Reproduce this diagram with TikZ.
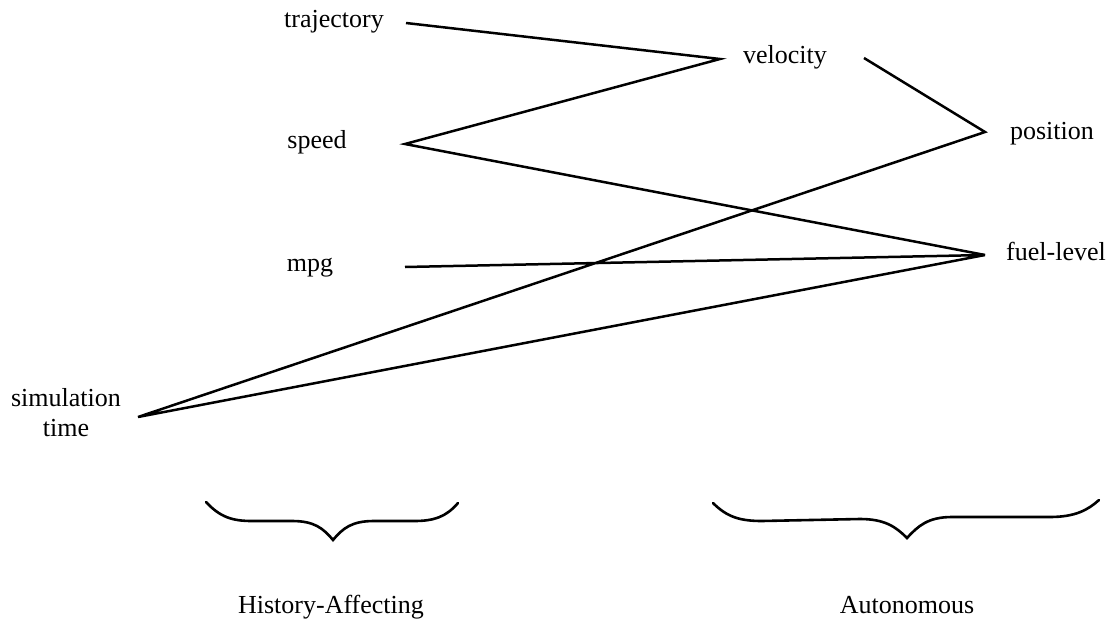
\documentclass[tikz,border=0pt]{standalone}
\usepackage{fontspec}
\setmainfont{Liberation Serif}
\begin{document}
\begin{tikzpicture}[x=1pt,y=-1pt,
  lbl/.style={inner sep=0pt,anchor=base,font=\fontsize{26}{30}\selectfont},
  conn/.style={line width=2.5pt,line join=miter},
  bracepath/.style={line width=2.6pt,line cap=round}]
\useasboundingbox (0,0) rectangle (1114,626);
% labels
\node[lbl] (traj) at (334,28) {trajectory};
\node[lbl] (speed) at (317,148) {speed};
\node[lbl] (mpg) at (310,271) {mpg};
\node[lbl,align=center,anchor=center] (sim) at (66,413) {simulation\\time};
\node[lbl] (vel) at (785,64) {velocity};
\node[lbl] (pos) at (1052,139) {position};
\node[lbl] (fuel) at (1056,260) {fuel-level};
\node[lbl] (hist) at (331,613) {History-Affecting};
\node[lbl] (auto) at (907,613) {Autonomous};
% connector ends
\coordinate (trajR) at (406,23);
\coordinate (speedR) at (405,144);
\coordinate (mpgR) at (405,267);
\coordinate (simR) at (138,417);
\coordinate (velL) at (720,59);
\coordinate (velR) at (864,58);
\coordinate (posL) at (985,132);
\coordinate (fuelL) at (985,255);
% connectors
\draw[conn] (trajR) -- (velL) -- (speedR) -- (fuelL);
\draw[conn] (velR) -- (posL) -- (simR) -- (fuelL) -- (mpgR);
% braces
\draw[bracepath] (206,502) .. controls (220,517) and (232,521) .. (252,521)
  -- (292,521) .. controls (314,521) and (323,528) .. (333,540)
  .. controls (343,528) and (352,521) .. (374,521)
  -- (414,521) .. controls (434,521) and (446,517) .. (458,503);
\draw[bracepath] (713,503) .. controls (727,517) and (740,521) .. (762,521)
  -- (860,519) .. controls (885,519) and (896,527) .. (907,538)
  .. controls (918,526) and (928,517) .. (952,517)
  -- (1050,517) .. controls (1075,517) and (1088,510) .. (1099,500);
\end{tikzpicture}
\end{document}
